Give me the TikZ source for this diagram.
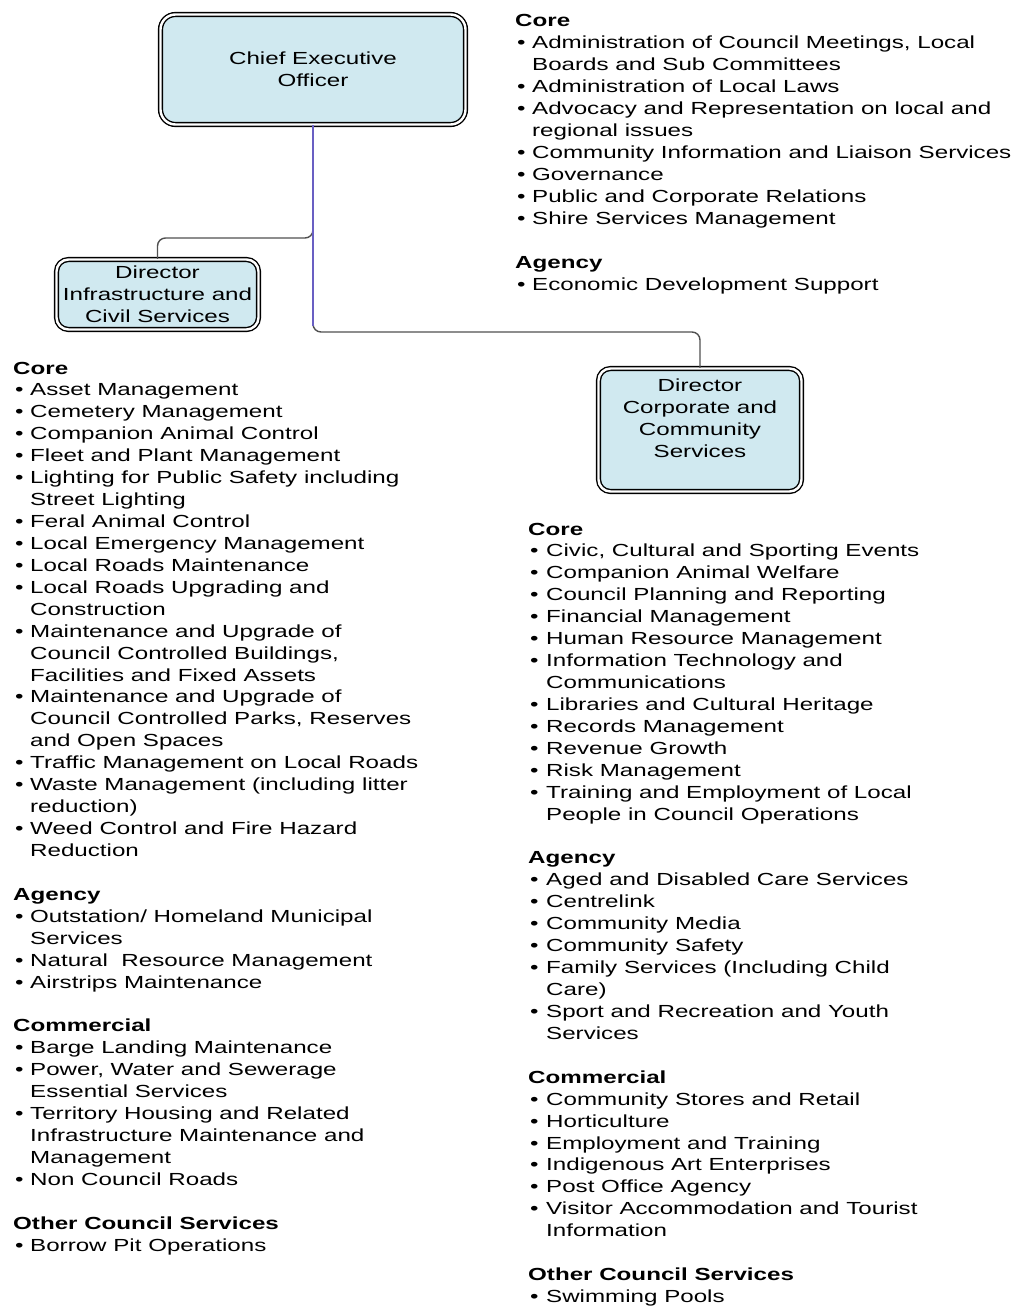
\documentclass[tikz,border=0pt]{standalone}
\usepackage{fontspec}
\setmainfont[FakeStretch=1.38]{Liberation Sans}
\usetikzlibrary{positioning,calc}

\definecolor{boxblue}{RGB}{208,233,240}
\definecolor{linkgrey}{RGB}{80,80,80}
\definecolor{linkpurple}{RGB}{105,95,195}

\tikzset{
  orgbox/.style={draw=black, line width=1.4pt, double=white, double distance=2.4pt,
    fill=boxblue, rounded corners=12pt, align=center, inner sep=2pt},
  boxtext/.style={align=center, inner sep=0pt},
  dutylist/.style={anchor=base west, inner sep=0pt, align=left},
  link/.style={draw=linkgrey, line width=1.4pt, rounded corners=8pt},
}
\newcommand{\hd}[1]{\multicolumn{2}{@{}l@{}}{\bfseries #1}}
\newcommand{\bl}{\hspace{2pt}\textbullet}

\begin{document}
\begin{tikzpicture}[x=1pt, y=-1pt, font=\fontsize{17.5}{21.93}\selectfont]
\useasboundingbox[fill=white] (0,0) rectangle (1016,1306);

% boxes
\node[orgbox, minimum width=305, minimum height=110, rounded corners=15pt] (ceo) at (313,69.5)
  {Chief Executive\\Officer};
\node[orgbox, minimum width=202, minimum height=70] (dics) at (157.5,294.5)
  {Director\\Infrastructure and\\Civil Services};
\node[orgbox, minimum width=203, minimum height=123] (dccs) at (700,430) {};
\node[boxtext] (dccstxt) at (700,418) {Director\\Corporate and\\Community\\Services};

% connectors
\coordinate (jl) at (313,238);
\coordinate (jr) at (313,332);
\draw[link] (ceo.south) -- (jr) -| (dccs.north);
\draw[link] ($(jl)+(0,-8)$) -- (jl) -| (dics.north);
\draw[draw=linkpurple, line width=1.4pt] (ceo.south) -- ($(jr)+(0,-6)$);

% CEO duties
\node[dutylist] (ceoduty) at (515,27) {\begin{tabular}[t]{@{}p{17pt}@{}l@{}}
\hd{Core}\\
\bl & Administration of Council Meetings, Local\\
    & Boards and Sub Committees\\
\bl & Administration of Local Laws\\
\bl & Advocacy and Representation on local and\\
    & regional issues\\
\bl & Community Information and Liaison Services\\
\bl & Governance\\
\bl & Public and Corporate Relations\\
\bl & Shire Services Management\\
    & \\
\hd{Agency}\\
\bl & Economic Development Support
\end{tabular}};

% infrastructure and civil services duties
\node[dutylist] (dicsduty) at (13,374) {\begin{tabular}[t]{@{}p{17pt}@{}l@{}}
\hd{Core}\\
\bl & Asset Management\\
\bl & Cemetery Management\\
\bl & Companion Animal Control\\
\bl & Fleet and Plant Management\\
\bl & Lighting for Public Safety including\\
    & Street Lighting\\
\bl & Feral Animal Control\\
\bl & Local Emergency Management\\
\bl & Local Roads Maintenance\\
\bl & Local Roads Upgrading and\\
    & Construction\\
\bl & Maintenance and Upgrade of\\
    & Council Controlled Buildings,\\
    & Facilities and Fixed Assets\\
\bl & Maintenance and Upgrade of\\
    & Council Controlled Parks, Reserves\\
    & and Open Spaces\\
\bl & Traffic Management on Local Roads\\
\bl & Waste Management (including litter\\
    & reduction)\\
\bl & Weed Control and Fire Hazard\\
    & Reduction\\
    & \\
\hd{Agency}\\
\bl & Outstation/ Homeland Municipal\\
    & Services\\
\bl & Natural\ \ Resource Management\\
\bl & Airstrips Maintenance\\
    & \\
\hd{Commercial}\\
\bl & Barge Landing Maintenance\\
\bl & Power, Water and Sewerage\\
    & Essential Services\\
\bl & Territory Housing and Related\\
    & Infrastructure Maintenance and\\
    & Management\\
\bl & Non Council Roads\\
    & \\
\hd{Other Council Services}\\
\bl & Borrow Pit Operations
\end{tabular}};

% corporate and community services duties
\node[dutylist] (dccsduty) at (528,535) {\begin{tabular}[t]{@{}p{18pt}@{}l@{}}
\hd{Core}\\
\bl & Civic, Cultural and Sporting Events\\
\bl & Companion Animal Welfare\\
\bl & Council Planning and Reporting\\
\bl & Financial Management\\
\bl & Human Resource Management\\
\bl & Information Technology and\\
    & Communications\\
\bl & Libraries and Cultural Heritage\\
\bl & Records Management\\
\bl & Revenue Growth\\
\bl & Risk Management\\
\bl & Training and Employment of Local\\
    & People in Council Operations\\
    & \\
\hd{Agency}\\
\bl & Aged and Disabled Care Services\\
\bl & Centrelink\\
\bl & Community Media\\
\bl & Community Safety\\
\bl & Family Services (Including Child\\
    & Care)\\
\bl & Sport and Recreation and Youth\\
    & Services\\
    & \\
\hd{Commercial}\\
\bl & Community Stores and Retail\\
\bl & Horticulture\\
\bl & Employment and Training\\
\bl & Indigenous Art Enterprises\\
\bl & Post Office Agency\\
\bl & Visitor Accommodation and Tourist\\
    & Information\\
    & \\
\hd{Other Council Services}\\
\bl & Swimming Pools
\end{tabular}};
\end{tikzpicture}
\end{document}
